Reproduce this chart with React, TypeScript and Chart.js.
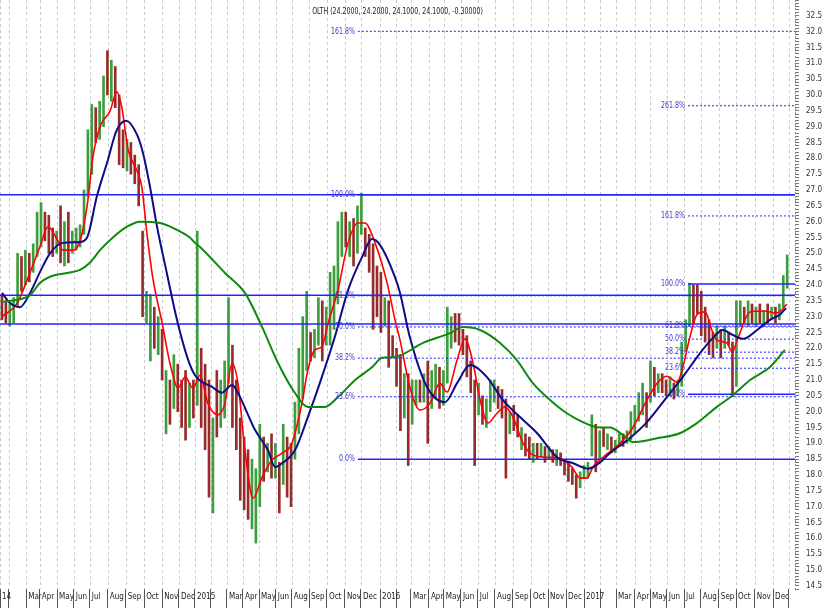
import React, { useEffect, useRef } from 'react';
import { Chart, registerables } from 'chart.js';

Chart.register(...registerables);

const TITLE = 'OLTH (24.2000, 24.2000, 24.1000, 24.1000, -0.30000)';

// x axis: trading-week index (July 2015 closure compressed out)
const X_MIN = -0.5;
const X_MAX = 203.0;
const Y_MIN = 14.4;
const Y_MAX = 33.0;

const MONTH_LABELS = ['14', '', 'Mar', 'Apr', 'May', 'Jun', 'Jul', 'Aug', 'Sep', 'Oct', 'Nov', 'Dec',
  '2015', '', 'Mar', 'Apr', 'May', 'Jun', 'Aug', 'Sep', 'Oct', 'Nov', 'Dec',
  '2016', '', 'Mar', 'Apr', 'May', 'Jun', 'Jul', 'Aug', 'Sep', 'Oct', 'Nov', 'Dec',
  '2017', '', 'Mar', 'Apr', 'May', 'Jun', 'Jul', 'Aug', 'Sep', 'Oct', 'Nov', 'Dec', ''];
const MONTH_POS = [-0.5, 1.8, 6.2, 9.7, 14.1, 18.4, 22.5, 27.1, 31.7, 36.4, 41.0, 45.3,
  49.4, 53.5, 57.6, 61.7, 65.8, 70.1, 74.2, 78.6, 83.2, 87.8, 91.9,
  96.8, 100.9, 104.7, 109.3, 113.1, 117.5, 121.8, 126.2, 130.8, 135.4, 139.8, 144.4,
  149.0, 153.1, 157.2, 162.0, 165.9, 170.2, 174.6, 178.9, 183.5, 187.9, 192.7, 197.4, 201.4];

// weekly price ranges
const LOW = [
  22.9, 22.8, 22.7, 22.8, 23.3, 23.8, 24.0, 24.1, 24.4, 24.9,
  25.2, 25.4, 25.0, 24.9, 25.0, 24.7, 24.6, 24.7, 25.0, 25.1,
  25.2, 25.6, 26.8, 27.5, 28.5, 28.6, 29.0, 30.0, 29.8, 29.6,
  27.8, 27.7, 27.6, 27.5, 27.2, 26.5, 23.0, 22.8, 21.6, 22.0,
  21.8, 21.0, 19.3, 19.6, 20.1, 20.0, 19.5, 19.1, 19.5, 19.8,
  20.2, 19.5, 18.8, 17.3, 16.8, 19.2, 19.5, 19.8, 20.9, 19.5,
  18.8, 17.2, 16.9, 16.6, 16.3, 15.85, 17.0, 17.8, 18.1, 17.9,
  17.9, 16.8, 17.7, 17.3, 17.0, 18.5, 19.3, 20.4, 21.3, 21.6,
  21.7, 22.1, 21.6, 22.1, 22.1, 22.6, 23.4, 24.9, 25.2, 24.9,
  24.6, 25.0, 25.6, 24.9, 24.4, 22.6, 23.0, 22.5, 22.7, 21.4,
  21.7, 20.8, 19.4, 19.8, 18.3, 19.6, 20.2, 20.3, 20.3, 19.0,
  20.1, 20.4, 20.1, 20.2, 20.9, 22.0, 22.2, 22.1, 21.8, 21.1,
  20.6, 18.3, 19.9, 19.6, 19.5, 20.0, 20.3, 20.1, 19.8, 17.9,
  19.3, 19.4, 19.2, 18.8, 18.6, 18.5, 18.4, 18.5, 18.6, 18.4,
  18.5, 18.4, 18.3, 18.3, 18.0, 17.8, 17.7, 17.27, 17.6, 17.9,
  17.9, 18.6, 18.1, 18.5, 18.9, 18.8, 18.7, 18.7, 18.9, 18.9,
  19.0, 19.1, 19.3, 19.7, 19.9, 19.5, 20.3, 20.5, 20.6, 20.6,
  20.5, 20.5, 20.4, 20.5, 20.8, 21.9, 22.7, 22.8, 23.1, 22.4,
  22.2, 21.8, 21.7, 22.0, 21.7, 22.0, 22.1, 20.47, 20.8, 22.7,
  22.8, 22.7, 22.8, 22.7, 22.8, 22.7, 22.8, 22.9, 22.8, 22.9,
  23.3, 23.9];
const HIGH = [
  23.7, 23.5, 23.4, 23.6, 25.0, 24.9, 25.1, 25.0, 25.3, 26.3,
  26.6, 26.3, 26.2, 25.8, 25.7, 26.5, 26.0, 26.3, 25.7, 25.8,
  25.9, 27.0, 28.9, 29.7, 29.6, 29.8, 30.6, 31.4, 31.1, 30.9,
  30.0, 28.9, 28.6, 28.5, 28.1, 27.8, 25.7, 23.8, 23.7, 23.3,
  23.0, 22.6, 21.3, 21.0, 21.8, 21.5, 21.0, 21.3, 20.9, 21.0,
  25.7, 22.0, 21.5, 21.0, 19.8, 21.3, 21.0, 21.6, 23.6, 22.1,
  21.0, 19.8, 19.2, 18.8, 18.5, 18.2, 19.6, 19.2, 19.0, 19.3,
  19.0, 18.4, 19.6, 19.2, 19.0, 20.3, 22.0, 23.0, 23.8, 22.5,
  22.6, 23.6, 23.5, 23.3, 24.4, 24.6, 26.0, 26.3, 26.3, 26.0,
  26.1, 26.5, 26.9, 25.8, 25.6, 25.3, 24.6, 24.4, 23.6, 23.5,
  22.4, 22.0, 21.8, 21.2, 21.2, 21.0, 21.0, 21.0, 21.2, 21.6,
  21.3, 21.5, 21.4, 21.3, 23.3, 23.0, 23.1, 23.1, 22.6, 22.4,
  21.6, 21.0, 20.9, 20.5, 20.4, 21.0, 21.0, 20.8, 20.7, 20.4,
  20.0, 20.2, 19.9, 19.5, 19.3, 19.2, 19.0, 19.0, 19.0, 18.9,
  18.9, 18.8, 18.8, 18.7, 18.5, 18.4, 18.2, 18.0, 18.1, 18.3,
  18.4, 19.9, 19.6, 19.4, 19.5, 19.3, 19.2, 19.1, 19.3, 19.3,
  19.4, 20.0, 20.2, 20.6, 20.9, 20.6, 21.6, 21.4, 21.2, 21.2,
  21.0, 21.1, 20.9, 21.0, 22.2, 22.9, 24.06, 24.0, 24.0, 23.8,
  23.3, 22.9, 22.5, 22.7, 22.6, 22.7, 22.5, 22.2, 23.5, 23.5,
  23.3, 23.5, 23.4, 23.3, 23.4, 23.2, 23.4, 23.3, 23.3, 23.4,
  24.3, 24.95];
const DIR = [
  'DDUUUDUDUU', 'UDDDUDUDUU', 'UUUUDUUDUD', 'DDUDDDDUUD', 'UDUDUDDDUD',
  'UDDDUDUUUD', 'DDDDUUUDUD', 'UDUDDUUUUD', 'UUDUUUUUDU', 'DUUDDDDDUD',
  'DDDUDUUDUD', 'UUDUUUDDDD', 'DDUDUUUDDD', 'UDDUDDUDUD', 'UDUDDDDDUU',
  'UUDUDUDUUD', 'UUUUUDUDUD', 'DUDUUUUDDD', 'DDDUDUDDUU', 'DUDUDUDUDU', 'UU'].join('');

// moving averages (week index, value)
const RED_W = [0, 3.9, 7.2, 9.7, 11.8, 14.3, 15.6, 18.2, 20.0, 21.8, 23.3, 25.1, 27.7, 29.4, 30.7, 32.3, 34.6, 35.8, 37.1, 38.7, 41.0, 43.0, 45.1, 46.9, 48.9, 50.7, 52.7, 55.3, 57.1, 58.9, 60.4, 62.2, 64.3, 66.6, 69.1, 71.7, 74.2, 76.8, 78.3, 80.1, 81.9, 83.5, 86.0, 88.6, 91.1, 92.9, 95.5, 98.6, 100.6, 101.9, 104.4, 107.0, 109.6, 112.1, 113.9, 116.5, 118.5, 120.6, 122.4, 124.4, 126.7, 128.8, 130.8, 133.4, 135.9, 139.5, 142.8, 145.9, 148.0, 149.7, 151.3, 153.8, 158.2, 161.5, 165.1, 167.7, 170.2, 172.8, 174.3, 176.1, 177.9, 180.0, 181.7, 183.0, 185.6, 186.9, 188.4, 191.5, 194.8, 198.4, 199.6, 200.9];
const RED_V = [23.0, 23.43, 24.4, 25.2, 25.84, 25.4, 25.1, 25.1, 25.4, 26.5, 28.05, 29.0, 29.5, 30.1, 29.6, 28.27, 27.6, 27.1, 25.64, 24.16, 22.8, 21.53, 20.74, 21.1, 20.74, 21.15, 20.27, 19.9, 20.27, 21.53, 20.9, 18.78, 17.27, 17.93, 18.47, 18.69, 19.0, 20.27, 21.31, 21.95, 22.05, 22.8, 23.84, 25.33, 25.96, 25.96, 25.33, 24.06, 22.9, 22.26, 20.78, 20.05, 20.27, 20.9, 20.62, 21.63, 22.3, 21.53, 20.37, 19.64, 19.95, 20.15, 19.83, 19.0, 18.63, 18.56, 18.53, 18.25, 17.9, 17.9, 18.25, 18.56, 19.0, 19.5, 20.37, 20.9, 21.12, 20.93, 21.41, 22.36, 23.06, 23.15, 22.58, 22.26, 22.17, 21.88, 22.33, 23.15, 23.18, 23.12, 23.21, 23.4];
const BLUE_W = [0, 2.1, 4.6, 7.2, 9.7, 12.3, 15.6, 20.0, 21.8, 24.3, 26.9, 29.4, 31.8, 34.6, 36.1, 37.9, 39.7, 42.2, 44.8, 47.4, 49.4, 53.8, 56.3, 58.9, 60.4, 64.8, 68.1, 69.9, 71.7, 75.0, 78.3, 81.9, 85.2, 88.6, 92.2, 94.7, 96.8, 100.6, 101.9, 104.4, 108.8, 113.4, 116.5, 119.8, 124.1, 128.2, 132.6, 137.0, 142.1, 146.2, 150.0, 153.1, 155.6, 160.7, 165.1, 170.2, 174.3, 178.7, 182.0, 184.5, 187.1, 189.7, 193.3, 196.6, 199.1, 200.7];
const BLUE_V = [23.75, 23.43, 23.3, 23.75, 24.4, 25.0, 25.33, 25.36, 25.5, 26.8, 27.86, 28.9, 29.19, 28.74, 28.17, 27.1, 25.84, 24.38, 22.9, 21.73, 21.15, 20.78, 20.6, 20.84, 20.59, 19.42, 18.78, 18.25, 18.37, 18.78, 19.83, 21.1, 22.36, 23.84, 24.89, 25.45, 25.26, 24.25, 23.75, 22.36, 20.78, 20.3, 20.9, 21.47, 21.1, 20.37, 19.83, 19.32, 18.56, 18.37, 18.2, 18.4, 18.69, 19.16, 19.67, 20.46, 21.1, 21.85, 22.33, 22.58, 22.42, 22.3, 22.58, 22.9, 23.06, 23.27];
const GREEN_W = [0, 7.2, 9.7, 12.3, 16.6, 20.0, 22.5, 25.1, 28.4, 32.0, 35.3, 40.5, 44.8, 48.1, 49.4, 50.7, 57.1, 62.2, 66.6, 70.7, 75.0, 78.3, 82.7, 86.0, 90.4, 94.7, 97.3, 100.6, 107.8, 114.7, 118.0, 122.4, 127.5, 131.8, 135.9, 140.3, 144.6, 148.7, 153.1, 155.6, 159.0, 161.5, 167.7, 173.5, 177.9, 183.0, 187.1, 191.5, 196.6, 200.4];
const GREEN_V = [23.46, 23.68, 24.06, 24.26, 24.38, 24.48, 24.7, 25.1, 25.5, 25.84, 26.0, 25.96, 25.74, 25.5, 25.33, 25.2, 24.38, 23.75, 22.67, 21.53, 20.59, 20.15, 20.15, 20.46, 21.0, 21.4, 21.7, 21.73, 22.17, 22.48, 22.67, 22.58, 22.17, 21.63, 20.9, 20.37, 19.95, 19.67, 19.5, 19.5, 19.26, 19.04, 19.16, 19.32, 19.64, 20.15, 20.52, 21.0, 21.41, 21.95];

// full-width horizontal lines
const FULL_LINES = [26.85, 23.68, 22.77];

// Fibonacci sets: [low, high], start week
const FIB_RATIOS = [0, 0.236, 0.382, 0.5, 0.618, 1, 1.618, 2.618];
const FIB_LABELS = ['0.0%', '23.6%', '38.2%', '50.0%', '61.8%', '100.0%', '161.8%', '261.8%'];
const FIB_A_RANGE = [18.5, 26.85];
const FIB_A_START = 91.1;
const FIB_B_RANGE = [20.55, 24.03];
const FIB_B_START = 175.6;

const FONT = '"Liberation Sans Narrow", "DejaVu Sans Condensed", Arial, sans-serif';
const UP_COLOR = '#3d9e3d';
const DOWN_COLOR = '#962b2b';
const LINE_BLUE = '#2424ff';
const LABEL_BLUE = '#3a3ad6';
const TEXT_SQUEEZE = 0.82;

function fibLevels(range: number[]) {
  return FIB_RATIOS.map((r) => range[0] + r * (range[1] - range[0]));
}

export default function App() {
  const ref = useRef<HTMLCanvasElement>(null);

  useEffect(() => {
    const canvas = ref.current;
    if (!canvas) return;

    const datasets: any[] = [];

    datasets.push({
      type: 'bar',
      data: LOW.map((l, i) => ({ x: i, y: [l, HIGH[i]] })),
      backgroundColor: LOW.map((_, i) => (DIR[i] === 'U' ? UP_COLOR : DOWN_COLOR)),
      borderWidth: 0,
      barThickness: 2,
      order: 10,
    });

    FULL_LINES.forEach((v) => {
      datasets.push({
        type: 'line',
        data: [{ x: X_MIN, y: v }, { x: X_MAX, y: v }],
        borderColor: LINE_BLUE,
        borderWidth: 1.5,
        pointRadius: 0,
        order: 5,
      });
    });

    const addFib = (range: number[], start: number) => {
      fibLevels(range).forEach((v, i) => {
        if (v > Y_MAX) return;
        const solid = FIB_RATIOS[i] === 0 || FIB_RATIOS[i] === 1;
        datasets.push({
          type: 'line',
          data: [{ x: start, y: v }, { x: X_MAX, y: v }],
          borderColor: LINE_BLUE,
          borderWidth: solid ? 1.5 : 1,
          borderDash: solid ? [] : [2, 2],
          pointRadius: 0,
          order: 5,
        });
      });
    };
    addFib(FIB_A_RANGE, FIB_A_START);
    addFib(FIB_B_RANGE, FIB_B_START);

    const ma = (ws: number[], vs: number[], color: string, width: number) => ({
      type: 'line',
      data: ws.map((w, i) => ({ x: w, y: vs[i] })),
      borderColor: color,
      borderWidth: width,
      pointRadius: 0,
      cubicInterpolationMode: 'monotone',
      order: 1,
    });
    datasets.push(ma(GREEN_W, GREEN_V, '#0e8a0e', 2));
    datasets.push(ma(BLUE_W, BLUE_V, '#0c0c8a', 2));
    datasets.push(ma(RED_W, RED_V, '#ff0000', 1.6));

    const squeezedText = (ctx: any, text: string, x: number, y: number) => {
      ctx.save();
      ctx.translate(x, y);
      ctx.scale(TEXT_SQUEEZE, 1);
      ctx.fillText(text, 0, 0);
      ctx.restore();
    };

    const overlay = {
      id: 'overlay',
      beforeDatasetsDraw(chart: any) {
        const { ctx, chartArea, scales } = chart;
        const xs = scales.x;
        ctx.save();
        ctx.strokeStyle = '#c9c9c9';
        ctx.lineWidth = 1;
        ctx.setLineDash([3, 3]);
        MONTH_POS.forEach((w) => {
          const px = Math.round(xs.getPixelForValue(w)) + 0.5;
          ctx.beginPath();
          ctx.moveTo(px, chartArea.top);
          ctx.lineTo(px, chartArea.bottom);
          ctx.stroke();
        });
        ctx.strokeStyle = '#8a8a8a';
        ctx.setLineDash([2, 2]);
        const ax = Math.round(chartArea.right) + 0.5;
        ctx.beginPath();
        ctx.moveTo(ax, chartArea.top);
        ctx.lineTo(ax, chartArea.bottom);
        ctx.stroke();
        ctx.restore();
      },
      afterDatasetsDraw(chart: any) {
        const { ctx, chartArea, scales } = chart;
        const xs = scales.x;
        const ys = scales.y;
        ctx.save();
        ctx.font = `8.5px ${FONT}`;
        ctx.fillStyle = LABEL_BLUE;
        ctx.textAlign = 'right';
        ctx.textBaseline = 'middle';
        const drawLabels = (range: number[], start: number) => {
          fibLevels(range).forEach((v, i) => {
            if (v > Y_MAX) return;
            squeezedText(ctx, FIB_LABELS[i], xs.getPixelForValue(start) - 3, ys.getPixelForValue(v));
          });
        };
        drawLabels(FIB_A_RANGE, FIB_A_START);
        drawLabels(FIB_B_RANGE, FIB_B_START);
        ctx.fillStyle = '#222';
        ctx.textAlign = 'center';
        ctx.font = `8.5px ${FONT}`;
        squeezedText(ctx, TITLE, (chartArea.left + chartArea.right) / 2, chartArea.top + 12);
        ctx.restore();
      },
    };

    const chart = new Chart(canvas, {
      type: 'bar',
      data: { datasets },
      options: {
        responsive: false,
        maintainAspectRatio: false,
        animation: false,
        devicePixelRatio: 1,
        layout: { padding: 0 },
        plugins: {
          legend: { display: false },
          tooltip: { enabled: false },
          title: { display: false },
        },
        events: [],
        scales: {
          x: {
            type: 'linear',
            min: X_MIN,
            max: X_MAX,
            offset: false,
            afterBuildTicks: (s: any) => {
              s.ticks = MONTH_POS.map((v) => ({ value: v }));
            },
            afterFit: (s: any) => {
              s.height = 19;
              s.paddingLeft = 0;
              s.paddingRight = 0;
            },
            grid: {
              offset: false,
              drawOnChartArea: false,
              drawTicks: true,
              tickLength: 19,
              tickColor: '#555',
              tickWidth: 1,
            },
            border: { display: false },
            ticks: {
              autoSkip: false,
              maxRotation: 0,
              minRotation: 0,
              align: 'start',
              labelOffset: 2,
              padding: -16,
              color: '#222',
              font: { family: FONT, size: 8 },
              callback: (_v: any, i: number) => MONTH_LABELS[i],
            },
          },
          y: {
            type: 'linear',
            position: 'right',
            min: Y_MIN,
            max: Y_MAX,
            afterFit: (s: any) => {
              s.width = 30;
              s.paddingTop = 0;
              s.paddingBottom = 0;
            },
            grid: {
              drawOnChartArea: false,
              drawTicks: true,
              tickLength: 4,
              tickColor: '#777',
            },
            border: { display: false },
            ticks: {
              stepSize: 0.1,
              autoSkip: false,
              padding: 7,
              color: '#333',
              font: { family: FONT, size: 8 },
              callback: (v: any) => {
                const n = Number(v);
                if (Math.abs(n * 2 - Math.round(n * 2)) < 1e-6 && n >= 14.45 && n <= 32.55) return n.toFixed(1);
                return '';
              },
            },
          },
        },
      } as any,
      plugins: [overlay],
    });

    return () => chart.destroy();
  }, []);

  return (
    <div style={{ position: 'fixed', left: 0, top: 0, width: 825, height: 608, background: '#fff' }}>
      <canvas ref={ref} width={825} height={608} style={{ width: 825, height: 608, display: 'block' }} />
    </div>
  );
}
